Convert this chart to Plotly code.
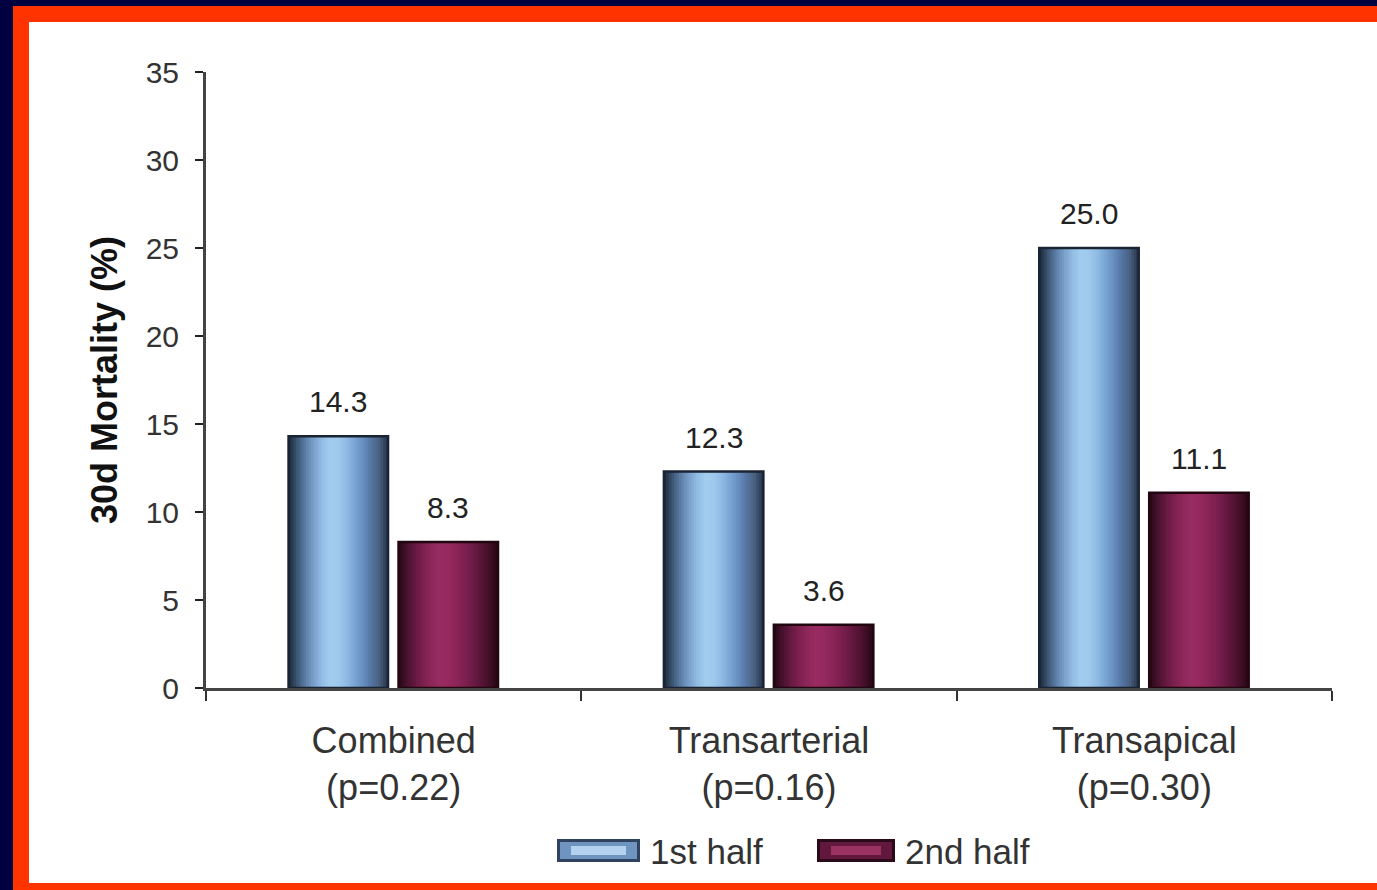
import plotly.graph_objects as go

# ---- data ----
categories = ["Combined<br>(p=0.22)", "Transarterial<br>(p=0.16)", "Transapical<br>(p=0.30)"]
series_names = ["1st half", "2nd half"]
first_half = [14.3, 12.3, 25.0]
second_half = [8.3, 3.6, 11.1]
y_ticks = [0, 5, 10, 15, 20, 25, 30, 35]
y_title = "30d Mortality (%)"

# ---- canvas geometry (pixels) ----
W, H = 1377, 890
L, R, T, B = 206, 45, 72, 202
PW = W - L - R
PH = H - T - B
CAT_PX = PW / len(categories)


def px(x):
    """pixel x -> paper fraction"""
    return (x - L) / PW


def py(y):
    """pixel y -> paper fraction"""
    return (H - B - y) / PH


def hex_rgb(h):
    h = h.lstrip("#")
    return tuple(int(h[i:i + 2], 16) for i in (0, 2, 4))


def smooth(stops, n):
    """expand a few colour stops into n evenly blended colours"""
    rgb = [hex_rgb(s) for s in stops]
    out = []
    for k in range(n):
        t = k / (n - 1) * (len(rgb) - 1)
        i = min(int(t), len(rgb) - 2)
        f = t - i
        c = [round(a + (b - a) * f) for a, b in zip(rgb[i], rgb[i + 1])]
        out.append("rgb({},{},{})".format(*c))
    return out


FONT = "Liberation Sans, Arial, sans-serif"
BAR_W = 0.265
OFFSETS = [-0.28, 0.013]
N_STRIPS = 40

# shading stops across the bar width for a rounded look
blue_stops = ["#1f2d40", "#3f5a78", "#5f80a8", "#7aa2cc", "#92bde4", "#a2cdef",
              "#9fcaee", "#8fbbe4", "#7aa6d4", "#6890c0", "#5676a4", "#4a6282", "#2a3850"]
maroon_stops = ["#2a0a18", "#4a1230", "#681a42", "#7e2050", "#8e275a", "#982c62",
                "#962a60", "#8c2558", "#7e2050", "#6e1b47", "#5a1538", "#451029", "#2a0818"]
outline_colors = ["#1a2332", "#22060f"]

fig = go.Figure()

for values, stops, off, edge in zip([first_half, second_half],
                                    [blue_stops, maroon_stops],
                                    OFFSETS, outline_colors):
    cols = smooth(stops, N_STRIPS)
    sw = BAR_W / N_STRIPS
    for i, c in enumerate(cols):
        fig.add_trace(go.Bar(
            x=categories, y=values, width=sw * 1.6 if i < N_STRIPS - 1 else sw,
            offset=off + i * sw,
            marker=dict(color=c, line=dict(width=0)),
            showlegend=False, hoverinfo="skip"))
    fig.add_trace(go.Bar(
        x=categories, y=values, width=BAR_W, offset=off,
        marker=dict(color="rgba(0,0,0,0)", line=dict(color=edge, width=2.5)),
        showlegend=False, hoverinfo="skip"))

# value labels above bars
annotations = []
for values, off in zip([first_half, second_half], OFFSETS):
    for cat, v in zip(categories, values):
        annotations.append(dict(
            x=cat, y=v, xref="x", yref="y",
            xshift=(off + BAR_W / 2) * CAT_PX, yshift=16,
            yanchor="bottom", xanchor="center", showarrow=False,
            text=f"{v:.1f}", font=dict(family=FONT, size=30, color="#222222")))

# frame: navy background, red border, white panel
shapes = [
    dict(type="rect", xref="paper", yref="paper", layer="below",
         x0=px(13), x1=px(W + 5), y0=py(6), y1=py(H + 5),
         fillcolor="#ff3300", line=dict(width=0)),
    dict(type="rect", xref="paper", yref="paper", layer="below",
         x0=px(29), x1=px(W + 5), y0=py(22), y1=py(883),
         fillcolor="#ffffff", line=dict(width=0)),
]

# legend swatches and labels
legend_items = [
    (557, 640, 648, ["#2f4260", "#6f94c0", "#b2d2f0"]),
    (817, 895, 903, ["#2a0a18", "#62183c", "#9a3262"]),
]
for (x0, x1, tx, cols), name in zip(legend_items, series_names):
    y0, y1 = 839, 862
    insets = [(0, 0), (3, 3), (14, 7)]
    for (ix, iy), c in zip(insets, cols):
        shapes.append(dict(type="rect", xref="paper", yref="paper", layer="above",
                           x0=px(x0 + ix), x1=px(x1 - ix), y0=py(y0 + iy), y1=py(y1 - iy),
                           fillcolor=c, line=dict(width=0)))
    annotations.append(dict(
        x=px(tx), y=py(851), xref="paper", yref="paper",
        xanchor="left", yanchor="middle", showarrow=False,
        text=name, font=dict(family=FONT, size=35, color="#333333")))

fig.update_layout(
    width=W, height=H,
    margin=dict(l=L, r=R, t=T, b=B, autoexpand=False),
    paper_bgcolor="#000040", plot_bgcolor="rgba(0,0,0,0)",
    barmode="overlay", showlegend=False,
    shapes=shapes, annotations=annotations,
    font=dict(family=FONT, color="#333333"),
    xaxis=dict(
        type="category", tickson="boundaries", ticks="outside", ticklen=10,
        tickwidth=2, tickcolor="#333333", showline=True, linecolor="#444444",
        linewidth=3, showgrid=False, zeroline=False,
        tickfont=dict(family=FONT, size=36, color="#333333"),
        ticklabelstandoff=19, fixedrange=True),
    yaxis=dict(
        range=[0, 35], tickvals=y_ticks, ticks="outside", ticklen=8,
        tickwidth=2, tickcolor="#222222", showline=True, linecolor="#444444",
        linewidth=3, showgrid=False, zeroline=False,
        tickfont=dict(family=FONT, size=30, color="#333333"),
        ticklabelstandoff=10,
        title=dict(text=f"<b>{y_title}</b>", standoff=18,
                   font=dict(family=FONT, size=36, color="#111111")),
        fixedrange=True),
)

fig.write_html("out.html")
